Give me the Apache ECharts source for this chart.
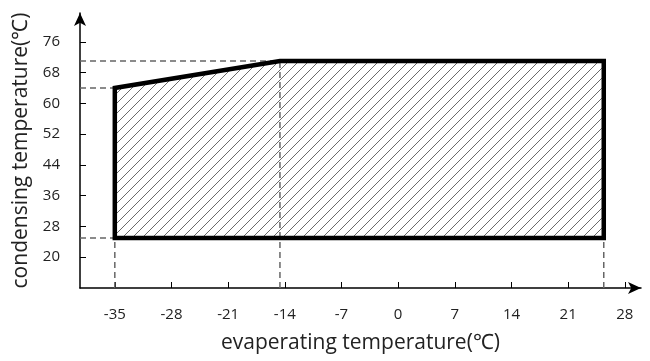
<!DOCTYPE html>
<html>
<head>
<meta charset="utf-8">
<script src="https://cdn.jsdelivr.net/npm/echarts@6/dist/echarts.min.js"></script>
<style>
  html, body { margin: 0; padding: 0; background: #fff; }
  #chart { width: 650px; height: 361px; }
</style>
</head>
<body>
<div id="chart"></div>
<script>
// Operating envelope corners (evaporating °C, condensing °C)
const envelopeEvap = [-35, -35, -14.6, 25.4, 25.4];
const envelopeCond = [25, 64, 71, 71, 25];

// Dashed guide lines to the axes
const guideHorizontal = [[-35, 25], [-35, 64], [-14.6, 71]];
const guideVertical = [[-35, 25], [-14.6, 71], [25.4, 25]];

// Tick labels
const xTicks = [-35, -28, -21, -14, -7, 0, 7, 14, 21, 28];
const yTicks = [20, 28, 36, 44, 52, 60, 68, 76];

const xMin = -39.3, xMax = 30;
const yMin = 12, yMax = 83.5;

// Diagonal hatch pattern for the envelope fill
function makeHatch() {
  const s = 10;
  const c = document.createElement('canvas');
  c.width = s; c.height = s;
  const g = c.getContext('2d');
  g.strokeStyle = '#6a6a6a';
  g.lineWidth = 1;
  g.beginPath();
  g.moveTo(0, s); g.lineTo(s, 0);
  g.moveTo(-s / 2, s / 2); g.lineTo(s / 2, -s / 2);
  g.moveTo(s / 2, s * 1.5); g.lineTo(s * 1.5, s / 2);
  g.stroke();
  return c;
}

const chart = echarts.init(document.getElementById('chart'), null, { renderer: 'canvas' });

const guideSeries = [];
guideHorizontal.forEach(p => {
  guideSeries.push({
    type: 'line', silent: true, symbol: 'none', z: 1,
    data: [[xMin, p[1]], [p[0], p[1]]],
    lineStyle: { color: '#666', width: 1.5, type: [6, 4] }
  });
});
guideVertical.forEach(p => {
  guideSeries.push({
    type: 'line', silent: true, symbol: 'none', z: 1,
    data: [[p[0], yMin], [p[0], p[1]]],
    lineStyle: { color: '#666', width: 1.5, type: [6, 4] }
  });
});

const hatch = makeHatch();
const font = 'Open Sans';

const option = {
  animation: false,
  backgroundColor: '#fff',
  grid: { left: 80, right: 9, top: 13, bottom: 73, containLabel: false },
  xAxis: {
    type: 'value', min: xMin, max: xMax,
    splitLine: { show: false },
    axisLine: {
      onZero: false,
      lineStyle: { color: '#000', width: 1.5 },
      symbol: ['none', 'arrow'], symbolSize: [9, 13]
    },
    axisTick: { show: true, inside: true, length: 6, lineStyle: { color: '#000', width: 1 }, customValues: xTicks },
    axisLabel: { customValues: xTicks, color: '#222', fontSize: 15, fontFamily: font, margin: 19 },
    name: 'evaperating temperature(℃)',
    nameLocation: 'middle', nameGap: 45,
    nameTextStyle: { color: '#222', fontSize: 21, fontFamily: font }
  },
  yAxis: {
    type: 'value', min: yMin, max: yMax,
    splitLine: { show: false },
    axisLine: {
      show: true, onZero: false,
      lineStyle: { color: '#000', width: 1.5 },
      symbol: ['none', 'arrow'], symbolSize: [9, 13]
    },
    axisTick: { show: true, inside: true, length: 6, lineStyle: { color: '#000', width: 1 }, customValues: yTicks },
    axisLabel: { customValues: yTicks, color: '#222', fontSize: 15, fontFamily: font, margin: 20 },
    name: 'condensing temperature(℃)',
    nameLocation: 'middle', nameGap: 44,
    nameTextStyle: { color: '#222', fontSize: 21, fontFamily: font }
  },
  series: guideSeries.concat([{
    type: 'custom', z: 3, silent: true,
    data: envelopeEvap.map((x, i) => [x, envelopeCond[i]]),
    renderItem: function (params, api) {
      if (params.dataIndex !== 0) return null;
      const pts = envelopeEvap.map((x, i) => api.coord([x, envelopeCond[i]]));
      return {
        type: 'polygon',
        shape: { points: pts },
        style: {
          fill: { image: hatch, repeat: 'repeat' },
          stroke: '#000', lineWidth: 4.5, lineJoin: 'miter'
        }
      };
    }
  }])
};

chart.setOption(option);
</script>
</body>
</html>
